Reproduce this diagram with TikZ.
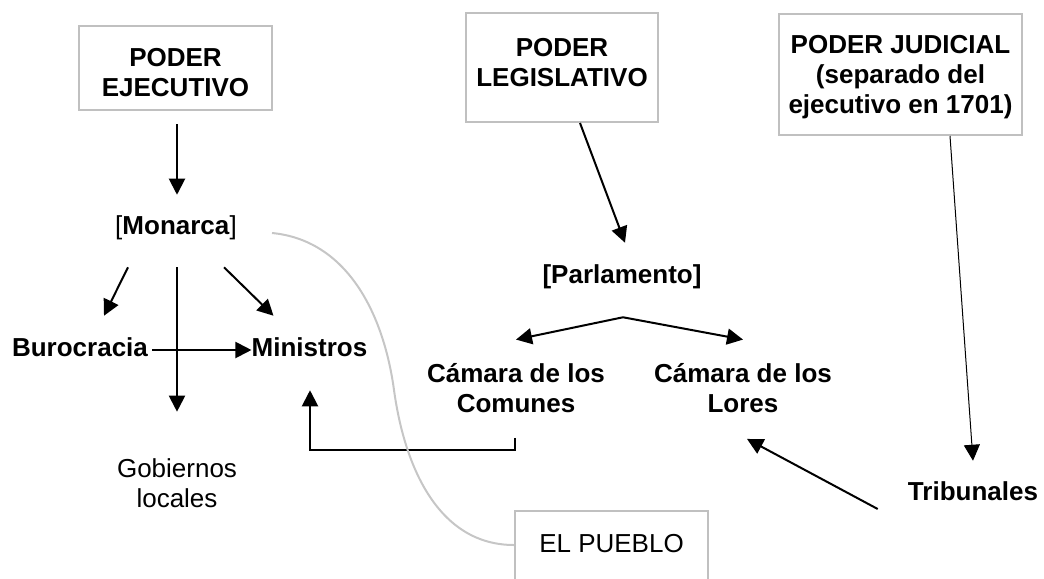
\documentclass[tikz,border=0pt]{standalone}
\usepackage{fontspec}
\setmainfont{Liberation Sans}
\usetikzlibrary{arrows.meta}
\definecolor{boxgray}{RGB}{192,192,192}
\definecolor{arcgray}{RGB}{198,198,198}
\begin{document}
\begin{tikzpicture}[x=0.75pt,y=-0.75pt,
        txt/.style={inner sep=0pt,align=center,font=\fontsize{19.5}{22.5}\selectfont},
        one/.style={txt,text height=14pt,text depth=4pt},
        poder/.style={txt,draw=boxgray,line width=1.5pt,font=\fontsize{19.5}{22.5}\selectfont\bfseries},
        arr/.style={line width=1.5pt,-{Triangle[length=12pt,width=12pt]}},
        fino/.style={line width=0.75pt,-{Triangle[length=12pt,width=12pt]}}]
        \useasboundingbox (0,0) rectangle (1044,578);
        % poderes
        \node[poder,minimum width=144.75pt,minimum height=63pt] (ejec) at (175.5,68) {\rule{0pt}{21pt}PODER\\EJECUTIVO};
        \node[poder,minimum width=144pt,minimum height=81.75pt] (legis) at (562,67.5) {PODER\\LEGISLATIVO\rule[-8.25pt]{0pt}{8.25pt}};
        \node[poder,minimum width=182.25pt,minimum height=90.75pt] (judic) at (900.5,74.5) {\rule{0pt}{18pt}PODER JUDICIAL\\(separado del\\ejecutivo en 1701)};
        % ejecutivo
        \node[one] (monarca) at (176,228) {[\textbf{Monarca}]};
        \node[one,font=\fontsize{19.5}{22.5}\selectfont\bfseries] (buro) at (80,350) {Burocracia};
        \node[one,font=\fontsize{19.5}{22.5}\selectfont\bfseries] (mini) at (309.5,350) {Ministros};
        \node[txt] (gob) at (177,483) {Gobiernos\\locales};
        % legislativo
        \node[one,font=\fontsize{19.5}{22.5}\selectfont\bfseries] (parl) at (622,277) {[Parlamento]};
        \node[txt,font=\fontsize{19.5}{22.5}\selectfont\bfseries] (com) at (516,388) {Cámara de los\\Comunes};
        \node[txt,font=\fontsize{19.5}{22.5}\selectfont\bfseries] (lores) at (743,388) {Cámara de los\\Lores};
        % judicial
        \node[one,font=\fontsize{19.5}{22.5}\selectfont\bfseries] (trib) at (973,494) {Tribunales};
        \node[txt,anchor=north,draw=boxgray,line width=1.5pt,minimum width=144.75pt,inner ysep=19pt,text height=12pt,text depth=60pt] (pueblo) at (611.5,510) {EL PUEBLO};

        \draw[arr] ([shift={(1.5,13)}]ejec.south) -- ([shift={(1,-21)}]monarca.north);
        \draw[arr] ([shift={(-48,27)}]monarca.south) -- ([shift={(24,-22)}]buro.north);
        \draw[arr] ([shift={(1,27)}]monarca.south) -- ([shift={(0,-46.5)}]gob.north);
        \draw[arr] ([shift={(48,27)}]monarca.south) -- ([shift={(-36,-22)}]mini.north);
        \draw[arr] ([shift={(4,0)}]buro.east) -- (mini.west);
        \draw[arr] ([shift={(18,0)}]legis.south) -- ([shift={(3,-22)}]parl.north);
        \coordinate (fork) at ([shift={(1,28)}]parl.south);
        \draw[arr] (fork) -- ([shift={(0,-23.5)}]com.north);
        \draw[arr] (fork) -- ([shift={(0,-23.5)}]lores.north);
        \draw[arr] ([shift={(-1,25)}]com.south) -- ++(0,12) -| ([shift={(0.5,28)}]mini.south);
        \draw[fino] ([shift={(49.5,0)}]judic.south) -- ([shift={(0,-21)}]trib.north);
        \draw[arr] ([shift={(-30,15)}]trib.west) -- ([shift={(4,26)}]lores.south);
        % el pueblo
        \draw[arcgray,line width=1.5pt] ([shift={(35,5)}]monarca.east) .. controls (345,240) and (383,310) .. (394,390)
            .. controls (405,470) and (440,545) .. ([shift={(0,35)}]pueblo.north west);
    \end{tikzpicture}
\end{document}
